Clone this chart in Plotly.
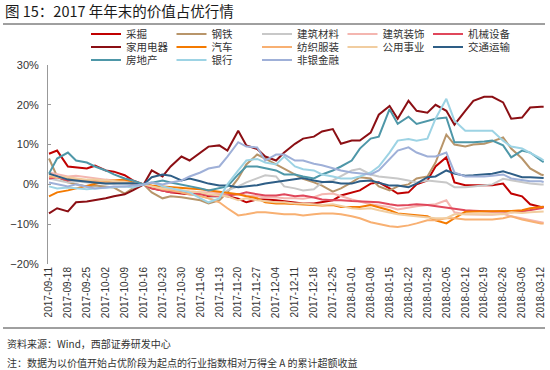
import plotly.graph_objects as go

# ---------------- data ----------------
dates = [
    "2017-09-11", "2017-09-14", "2017-09-18", "2017-09-21", "2017-09-25", "2017-09-28",
    "2017-10-02", "2017-10-05", "2017-10-09", "2017-10-12", "2017-10-16", "2017-10-19",
    "2017-10-23", "2017-10-26", "2017-10-30",
    "2017-11-02", "2017-11-06", "2017-11-09", "2017-11-13", "2017-11-16", "2017-11-20",
    "2017-11-23", "2017-11-27", "2017-11-30",
    "2017-12-04", "2017-12-07", "2017-12-11", "2017-12-14", "2017-12-18", "2017-12-21",
    "2017-12-25", "2017-12-28",
    "2018-01-01", "2018-01-04", "2018-01-08", "2018-01-11", "2018-01-15", "2018-01-18",
    "2018-01-22", "2018-01-25", "2018-01-29",
    "2018-02-01", "2018-02-05", "2018-02-08", "2018-02-12", "2018-02-15", "2018-02-19",
    "2018-02-22", "2018-02-26",
    "2018-03-01", "2018-03-05", "2018-03-08", "2018-03-12", "2018-03-13",
]

caijue = [7.7, 8.5, 4.5, 4.3, 4.0, 4.7,
          3.5, 3.2, 2.3, 1.0, 0.0, -1.0, -1.5, -2.0, -2.3,
          -2.5, -2.5, -3.0, -2.8, -3.0, -3.6, -4.5, -3.8, -3.8,
          -4.0, -4.2, -4.5, -4.8, -4.8, -4.5, -4.0, -2.8,
          -2.0, -1.5, 0.2, 0.5, -1.0, -2.3, -2.0, 0.0, 1.0,
          4.5, 6.8, 0.5, -0.2, -0.2, -0.2, -0.2, 0.2,
          -2.3, -3.0, -5.0, -5.7, -5.6]
gangtie = [6.5, 2.0, 0.5, 0.0, -0.5, -0.3,
           -0.5, -0.8, -2.3, -1.0, 0.0, -2.0, -3.5, -3.0, -3.2,
           -3.5, -4.0, -4.8, -4.0, -2.0, 1.5, 5.0, 7.5, 6.5,
           5.0, 4.0, 2.5, 1.4, 0.5, -0.3, -1.8, -1.0,
           0.5, 1.8, 1.5, -0.5, -1.5, -0.5, 0.0, 1.5, 2.0,
           5.5, 12.5, 10.0, 9.5, 10.0, 10.2, 10.8, 11.8,
           9.0, 6.5, 4.0, 2.5, 2.3]
jiancai = [1.5, 1.0, 0.5, 0.8, 0.5, 0.3,
           0.2, 0.3, 0.5, 0.3, 0.0, -0.5, -1.0, -1.5, -2.0,
           -2.5, -2.8, -3.5, -3.0, -1.5, -0.5, 0.5, 1.5, 2.3,
           2.0, -0.5, -1.0, -1.5, -1.2, 0.5, 1.0, 2.0,
           3.5, 3.9, 2.5, 2.0, 1.8, 1.5, 1.0, 0.5, 1.0,
           0.8, 0.5, -0.7, -0.7, -0.5, -0.3, 0.0, 1.4,
           1.0, 0.5, 0.2, 0.0, 0.0]
jianzhuang = [3.0, 2.5, 2.0, 2.2, 1.8, 1.5,
              1.2, 1.0, 0.8, 0.4, 0.0, -0.5, -1.0, -1.2, -1.5,
              -1.8, -2.0, -2.0, -2.2, -2.5, -2.5, -2.8, -3.0, -3.3,
              -3.2, -3.5, -3.5, -3.6, -3.2, -2.5, -2.3, -3.0,
              -3.8, -4.3, -5.0, -5.3, -5.7, -6.3, -5.8, -5.5, -5.2,
              -5.0, -4.0, -7.0, -7.5, -7.6, -7.6, -7.6, -7.4,
              -8.0, -8.5, -9.0, -9.5, -9.6]
jixie = [1.5, 1.8, 1.0, 1.2, 1.0, 0.8,
         0.6, 0.5, 0.5, 0.3, 0.0, -1.0, -1.5, -2.0, -2.0,
         -2.3, -2.5, -2.8, -3.0, -2.8, -2.5, -2.0, -2.5, -2.8,
         -2.8, -2.5, -3.0, -2.8, -3.3, -3.8, -4.0, -4.0,
         -4.2, -4.3, -4.5, -4.5, -5.0, -5.3, -5.2, -5.0, -5.2,
         -5.5, -5.8, -6.2, -6.5, -6.6, -6.8, -6.8, -6.8,
         -7.0, -6.8, -6.5, -6.0, -5.8]
jiadian = [-7.3, -6.0, -6.8, -4.5, -4.3, -4.0,
           -3.5, -3.0, -2.5, -1.5, 0.0, 3.5, 2.0, 4.5, 7.0,
           6.0, 8.0, 9.5, 9.8, 8.5, 13.5, 9.8, 8.9, 7.0,
           6.0, 8.0, 10.2, 11.5, 12.0, 13.3, 13.9, 10.2,
           11.0, 11.0, 13.0, 17.5, 19.7, 16.5, 21.0, 18.5, 18.0,
           20.0, 18.5, 15.0, 18.5, 21.0, 22.0, 22.0, 20.6,
           16.5, 16.8, 19.3, 19.5, 19.5]
qiche = [-3.0, -2.0, -1.5, -1.0, -0.5, 0.0,
         0.8, 1.0, 1.2, 0.5, 0.0, -0.3, -0.5, -0.7, -0.8,
         -1.0, -1.2, -1.5, -1.8, -2.2, -2.5, -3.0, -3.5, -4.5,
         -4.8, -4.8, -5.0, -5.0, -5.2, -5.3, -5.2, -5.7,
         -5.8, -5.7, -5.2, -5.8, -6.5, -7.3, -7.5, -7.8, -8.0,
         -9.0, -9.8, -8.5, -6.9, -6.8, -6.8, -6.8, -6.8,
         -6.7, -6.5, -6.0, -5.7, -5.7]
fangzhi = [2.0, 1.8, 1.5, 1.2, 1.0, 0.8,
           0.5, 0.3, 0.5, 0.3, 0.0, -0.5, -1.2, -1.5, -2.0,
           -2.5, -3.0, -3.5, -4.5, -6.0, -7.8, -7.5, -7.0, -7.0,
           -7.2, -7.5, -7.5, -7.8, -7.5, -7.3, -7.3, -7.5,
           -8.0, -8.5, -9.5, -10.0, -10.5, -10.7, -10.3, -9.8, -9.0,
           -9.0, -8.5, -8.5, -8.8, -8.8, -8.8, -8.8, -8.5,
           -8.0, -8.8, -9.3, -9.8, -9.8]
gongyong = [2.5, 2.0, 1.8, 1.5, 1.2, 1.2,
            1.0, 0.8, 0.6, 0.3, 0.0, -0.5, -1.0, -1.0, -1.5,
            -1.8, -2.0, -2.5, -2.8, -3.0, -4.0, -3.5, -4.0, -4.2,
            -4.5, -4.5, -4.8, -4.8, -5.0, -5.2, -5.0, -5.5,
            -6.0, -6.2, -6.0, -6.5, -7.0, -7.5, -7.8, -8.0, -8.2,
            -8.5, -8.5, -7.5, -7.5, -7.5, -7.5, -7.5, -7.5,
            -7.0, -7.2, -7.0, -6.8, -6.8]
jiaotong = [2.7, 2.0, 1.2, 1.0, 0.8, 0.5,
            0.2, 0.2, 0.3, 0.3, 0.0, 1.8, 2.5, 2.2, 1.0,
            1.5, 0.8, 0.2, -0.3, -0.3, -0.7, -0.5, -0.2, 0.2,
            0.6, 1.0, 1.4, 1.6, 1.0, 0.6, 0.6, 0.2,
            0.2, 0.8, 1.0, 0.5, -0.3, -0.3, -0.7, 0.2, 1.8,
            2.0, 3.5, 2.7, 2.2, 2.3, 2.5, 2.7, 3.3,
            2.7, 1.8, 1.8, 1.6, 1.6]
fangdichan = [2.7, 6.5, 8.0, 6.0, 5.5, 4.5,
              3.5, 2.5, 1.5, 1.0, 0.0, 0.5, 1.0, 0.5, 0.0,
              -0.5, -1.0, -1.5, -1.0, -0.5, 2.5, 4.5, 4.5, 4.0,
              3.5, 2.5, 2.5, 2.0, 1.5, 2.5, 3.5, 4.5,
              6.0, 9.0, 11.5, 12.0, 18.9, 15.2, 17.0, 15.2, 16.0,
              16.5, 16.8, 10.6, 10.6, 10.6, 10.8, 11.0, 9.8,
              6.8, 8.5, 8.0, 6.0, 5.6]
yinhang = [-0.5, -1.0, -0.8, -1.0, -1.2, -1.0,
           -0.8, -0.6, -0.5, -0.8, 0.0, 0.5, -0.5, -1.0, -1.5,
           -2.0, -3.5, -4.5, -3.5, 0.0, 3.5, 6.0, 6.4, 5.5,
           5.0, 7.0, 4.5, 3.8, 3.5, 2.5, 2.0, 1.5,
           1.5, 2.0, 3.0, 4.5, 8.0, 11.0, 11.4, 11.0, 11.5,
           16.5, 21.5, 16.0, 13.5, 13.5, 13.5, 13.5, 11.0,
           9.5, 9.0, 8.0, 6.5, 6.0]
feiyin = [0.5, 0.0, -0.5, 0.0, -0.5, -1.0,
          -0.8, -0.5, -0.5, -0.3, 0.0, 0.5, 0.0, 0.5, 1.0,
          2.0, 3.0, 4.0, 4.5, 7.0, 10.6, 9.5, 9.3, 6.0,
          7.5, 7.5, 6.0, 6.0, 5.2, 4.8, 4.0, 3.5,
          3.0, 2.8, 2.5, 3.5, 6.5, 8.5, 9.3, 8.0, 7.0,
          7.0, 8.0, 3.0, 2.0, 2.0, 2.0, 2.2, 2.5,
          1.5, 1.0, 0.8, 0.8, 0.6]

names = ["采掘", "钢铁", "建筑材料", "建筑装饰", "机械设备",
         "家用电器", "汽车", "纺织服装", "公用事业", "交通运输",
         "房地产", "银行", "非银金融"]
values = [caijue, gangtie, jiancai, jianzhuang, jixie,
          jiadian, qiche, fangzhi, gongyong, jiaotong,
          fangdichan, yinhang, feiyin]
colors = ["#C00000", "#B8956A", "#C8C8C8", "#F4B6B0", "#E0475B",
          "#8B0F14", "#F47A00", "#F8B072", "#F1CDA0", "#2E5E86",
          "#4E97A8", "#9DD3E4", "#9FB0D8"]
legend_ids = ["legend"] * 5 + ["legend2"] * 5 + ["legend3"] * 3

week_ticks = ["2017-09-11", "2017-09-18", "2017-09-25", "2017-10-02", "2017-10-09",
              "2017-10-16", "2017-10-23", "2017-10-30", "2017-11-06", "2017-11-13",
              "2017-11-20", "2017-11-27", "2017-12-04", "2017-12-11", "2017-12-18",
              "2017-12-25", "2018-01-01", "2018-01-08", "2018-01-15", "2018-01-22",
              "2018-01-29", "2018-02-05", "2018-02-12", "2018-02-19", "2018-02-26",
              "2018-03-05", "2018-03-12"]

title_text = "图 15：2017 年年末的价值占优行情"
source_text = "资料来源：Wind，西部证券研发中心"
note_text = "注：数据为以价值开始占优阶段为起点的行业指数相对万得全 A 的累计超额收益"

# ---------------- figure ----------------
W, H = 550, 370
ML, MR, MT, MB = 48, 5, 65, 106
PW, PH = W - ML - MR, H - MT - MB


def px_x(p):
    return (p - ML) / PW


def px_y(p):
    return (H - MB - p) / PH


fig = go.Figure()
for nm, vals, col, lg in zip(names, values, colors, legend_ids):
    fig.add_trace(go.Scatter(x=dates, y=vals, mode="lines", name=nm,
                             line=dict(color=col, width=2), legend=lg,
                             hoverinfo="skip"))

xr = ["2017-09-10 15:00", "2018-03-13 12:00"]
cjk = "Noto Sans CJK SC"
lat = "Liberation Sans, Arial, sans-serif"

leg_common = dict(orientation="h", xanchor="left", yanchor="middle",
                  entrywidth=40.5, entrywidthmode="pixels", itemwidth=30,
                  bgcolor="rgba(0,0,0,0)", borderwidth=0,
                  font=dict(family=cjk, size=10.5, color="#333333"))

fig.update_layout(
    width=W, height=H,
    margin=dict(l=ML, r=MR, t=MT, b=MB, autoexpand=False),
    paper_bgcolor="white", plot_bgcolor="white",
    font=dict(family=lat, size=11, color="#333333"),
    title=dict(text=title_text, x=5 / W, xanchor="left", xref="container",
               y=1 - 12 / H, yref="container", yanchor="middle",
               font=dict(family=cjk, size=14.5, color="#1a1a1a")),
    xaxis=dict(type="date", range=xr, tickvals=week_ticks, ticktext=week_ticks,
               tickangle=-90, tickfont=dict(family=lat, size=10, color="#333333"),
               showgrid=False, showline=False, ticks="", zeroline=False),
    xaxis2=dict(type="date", overlaying="x", anchor="free", position=0.4, range=xr,
                tickvals=week_ticks, showticklabels=False, ticks="inside", ticklen=4,
                tickcolor="#808080", showline=True, linecolor="#808080", linewidth=1,
                showgrid=False, zeroline=False),
    yaxis=dict(range=[-20, 30], dtick=10, ticksuffix="%", showgrid=False,
               zeroline=False, showline=True, linecolor="#999999", linewidth=1,
               ticks="inside", ticklen=3, tickcolor="#999999", ticklabelstandoff=6,
               tickfont=dict(family=lat, size=11, color="#333333")),
    legend=dict(x=px_x(86), y=px_y(34), **leg_common),
    legend2=dict(x=px_x(86), y=px_y(47), **leg_common),
    legend3=dict(x=px_x(86), y=px_y(60), **leg_common),
    shapes=[
        dict(type="line", xref="paper", yref="paper", x0=px_x(3), x1=px_x(545),
             y0=px_y(24), y1=px_y(24), line=dict(color="#404040", width=1)),
        dict(type="line", xref="paper", yref="paper", x0=px_x(3), x1=px_x(545),
             y0=px_y(328), y1=px_y(328), line=dict(color="#404040", width=1)),
    ],
    annotations=[
        dict(text=source_text, xref="paper", yref="paper", x=px_x(5), y=px_y(343),
             xanchor="left", yanchor="middle", showarrow=False,
             font=dict(family=cjk, size=10, color="#333333")),
        dict(text=note_text, xref="paper", yref="paper", x=px_x(5), y=px_y(362),
             xanchor="left", yanchor="middle", showarrow=False,
             font=dict(family=cjk, size=10, color="#333333")),
    ],
    showlegend=True,
)

fig.write_html("out.html",
               config={"displayModeBar": False},
               post_script="document.body.style.margin='0';document.body.style.overflow='hidden';")
